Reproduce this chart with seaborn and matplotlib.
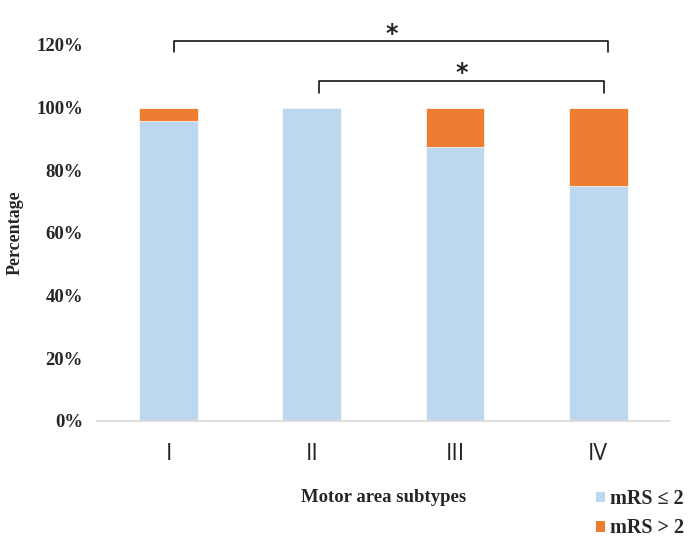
import pandas as pd
import matplotlib.pyplot as plt
import seaborn as sns
from matplotlib.patches import Patch

# values
subtypes = ["I", "II", "III", "IV"]
mrs_low = [95.7, 100.0, 87.5, 75.0]      # mRS <= 2
mrs_high = [4.3, 0.0, 12.5, 25.0]        # mRS > 2
yticks = [0, 20, 40, 60, 80, 100, 120]

blue = "#BDD7EE"
orange = "#ED7D31"

df = pd.DataFrame({"subtype": subtypes, "low": mrs_low, "high": mrs_high})
df["total"] = df["low"] + df["high"]

sns.set_style("white")
serif = ["Liberation Serif", "DejaVu Serif"]

fig = plt.figure(figsize=(6.92, 5.4), dpi=100)
ax = fig.add_axes([0.140, 0.2204, 0.828, 0.6963])

# stacked bars: full height in orange, lower part in blue on top
sns.barplot(data=df, x="subtype", y="total", color=orange, width=0.41,
            saturation=1, edgecolor="white", linewidth=0.5, ax=ax)
sns.barplot(data=df, x="subtype", y="low", color=blue, width=0.41,
            saturation=1, edgecolor="white", linewidth=0.5, ax=ax)

ax.set_xlim(-0.5, 3.5)
ax.set_ylim(0, 120)
ax.set_yticks(yticks)
ax.set_yticklabels([f"{t}%" for t in yticks], fontfamily=serif,
                   fontweight="bold", fontsize=13.5)
ax.set_xticks(range(len(subtypes)))
ax.set_xticklabels(subtypes, fontfamily=["Open Sans", "DejaVu Sans"],
                   fontsize=16.5, color="#222222")
ax.tick_params(axis="both", length=0)
ax.tick_params(axis="x", pad=15)
ax.tick_params(axis="y", pad=10)

for s in ["top", "right", "left"]:
    ax.spines[s].set_visible(False)
ax.spines["bottom"].set_color("#d9d9d9")
ax.spines["bottom"].set_linewidth(1.2)

ax.set_ylabel("Percentage", fontfamily=serif, fontweight="bold", fontsize=13, labelpad=9)
ax.set_xlabel("Motor area subtypes", fontfamily=serif, fontweight="bold",
              fontsize=13.5, labelpad=17)

# significance brackets
def bracket(x1, x2, y, h, star_y):
    ax.plot([x1, x1, x2, x2], [y - h, y, y, y - h], color="black", lw=1.1, clip_on=False)
    ax.text((x1 + x2) / 2, star_y, "*", ha="center", va="center", fontsize=17,
            fontweight="bold", fontfamily=["DejaVu Sans"], clip_on=False)

bracket(0.04, 3.07, 121.3, 3.5, 123.6)
bracket(1.05, 3.04, 108.6, 3.8, 110.9)

handles = [Patch(facecolor=blue, edgecolor="none", label="mRS ≤ 2"),
           Patch(facecolor=orange, edgecolor="none", label="mRS > 2")]
fig.legend(handles=handles, loc="upper left", bbox_to_anchor=(0.861, 0.094),
           frameon=False, prop={"family": serif, "weight": "bold", "size": 14.5},
           handlelength=0.45, handleheight=0.45, handletextpad=0.25,
           labelspacing=0.45, borderaxespad=0, borderpad=0)

fig.savefig("out.png", dpi=100)
